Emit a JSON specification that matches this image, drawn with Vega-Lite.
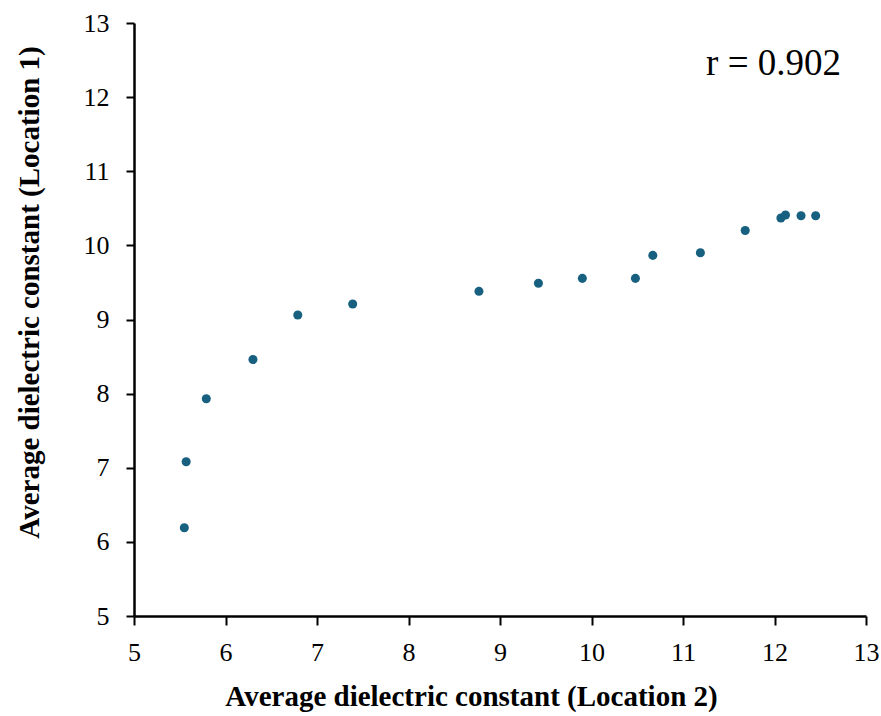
{
  "$schema": "https://vega.github.io/schema/vega-lite/v6.json",
  "autosize": {"type": "none"},
  "width": 732,
  "height": 593,
  "padding": {"left": 134, "top": 23, "right": 15, "bottom": 100},
  "background": "white",
  "config": {
    "view": {"stroke": null},
    "font": "Liberation Serif",
    "axis": {"labelFont": "Liberation Serif", "titleFont": "Liberation Serif"}
  },
  "datasets": {
    "points": [
      {"loc2": 5.55, "loc1": 6.19},
      {"loc2": 5.57, "loc1": 7.08},
      {"loc2": 5.79, "loc1": 7.93},
      {"loc2": 6.30, "loc1": 8.46},
      {"loc2": 6.79, "loc1": 9.06},
      {"loc2": 7.39, "loc1": 9.21},
      {"loc2": 8.77, "loc1": 9.38},
      {"loc2": 9.42, "loc1": 9.49},
      {"loc2": 9.90, "loc1": 9.555},
      {"loc2": 10.48, "loc1": 9.555},
      {"loc2": 10.67, "loc1": 9.865},
      {"loc2": 11.19, "loc1": 9.90},
      {"loc2": 11.68, "loc1": 10.20},
      {"loc2": 12.07, "loc1": 10.37},
      {"loc2": 12.12, "loc1": 10.41},
      {"loc2": 12.29, "loc1": 10.40},
      {"loc2": 12.45, "loc1": 10.40}
    ],
    "label": [
      {"x": 11.99, "y": 12.45, "text": "r = 0.902"}
    ]
  },
  "layer": [
    {
      "data": {"name": "points"},
      "mark": {"type": "point", "filled": true, "opacity": 1, "size": 82, "color": "#17607f"},
      "encoding": {
        "x": {
          "field": "loc2", "type": "quantitative",
          "scale": {"domain": [5, 13], "nice": false, "zero": false},
          "axis": {
            "title": "Average dielectric constant (Location 2)",
            "values": [5, 6, 7, 8, 9, 10, 11, 12, 13],
            "format": "d",
            "grid": false,
            "domainColor": "black", "domainWidth": 2.5,
            "tickColor": "black", "tickWidth": 2, "tickSize": 9,
            "labelFont": "Liberation Serif", "labelFontSize": 26, "labelColor": "black",
            "labelPadding": 14, "labelFlush": false, "labelOverlap": false,
            "titleFont": "Liberation Serif", "titleFontSize": 29, "titleFontWeight": "bold", "titleColor": "black",
            "titleX": 337, "titleY": 89, "titleBaseline": "alphabetic"
          }
        },
        "y": {
          "field": "loc1", "type": "quantitative",
          "scale": {"domain": [5, 13], "nice": false, "zero": false},
          "axis": {
            "title": "Average dielectric constant (Location 1)",
            "values": [5, 6, 7, 8, 9, 10, 11, 12, 13],
            "format": "d",
            "grid": false,
            "domainColor": "black", "domainWidth": 2.5,
            "tickColor": "black", "tickWidth": 2, "tickSize": 8,
            "labelFont": "Liberation Serif", "labelFontSize": 26, "labelColor": "black",
            "labelPadding": 17, "labelFlush": false, "labelOverlap": false,
            "titleFont": "Liberation Serif", "titleFontSize": 29, "titleFontWeight": "bold", "titleColor": "black",
            "titleX": -96, "titleY": 269, "titleBaseline": "alphabetic"
          }
        }
      }
    },
    {
      "data": {"name": "label"},
      "mark": {"type": "text", "font": "Liberation Serif", "fontSize": 37, "color": "black", "align": "center", "baseline": "middle"},
      "encoding": {
        "x": {"field": "x", "type": "quantitative"},
        "y": {"field": "y", "type": "quantitative"},
        "text": {"field": "text"}
      }
    }
  ]
}
